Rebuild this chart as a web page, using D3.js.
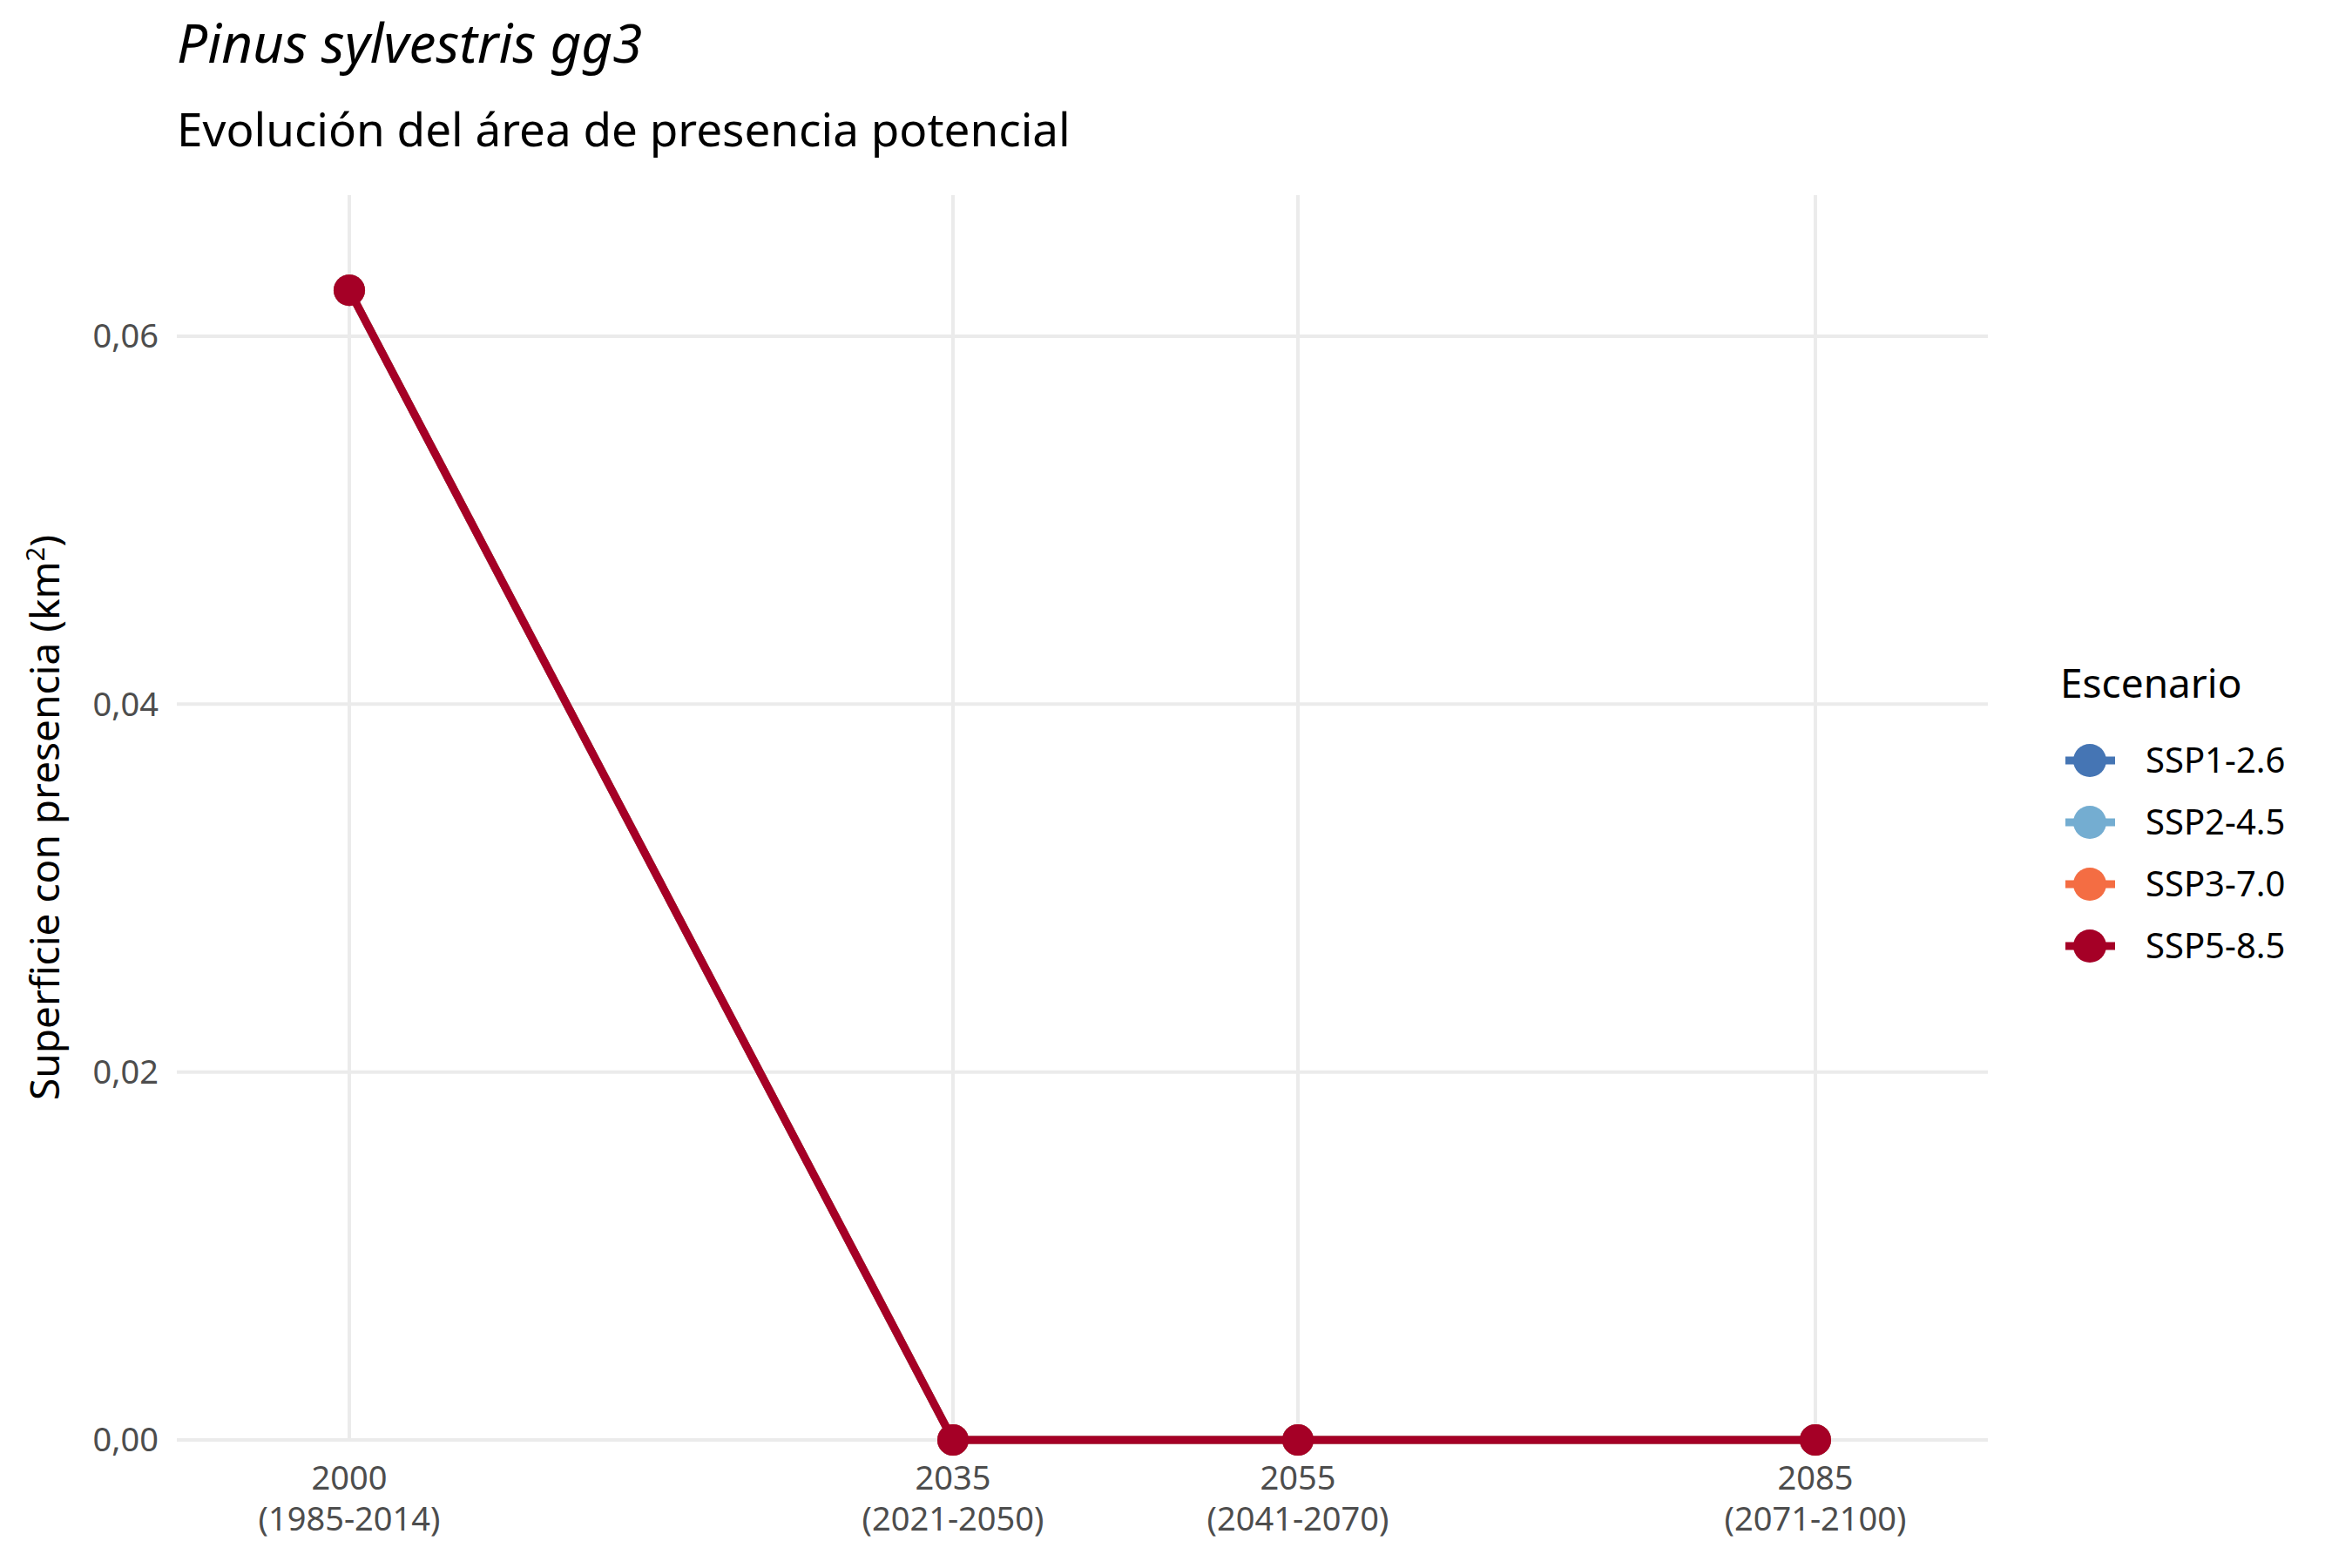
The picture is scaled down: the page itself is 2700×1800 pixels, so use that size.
<!DOCTYPE html>
<html>
<head>
<meta charset="utf-8">
<script src="https://cdn.jsdelivr.net/npm/d3@7"></script>
<style>
  body { margin: 0; background: #fff; }
  text { font-family: "Noto Sans", "Open Sans", sans-serif; }
</style>
</head>
<body>
<script>
// data
const years = [2000, 2035, 2055, 2085];
const periodLabels = ['(1985-2014)', '(2021-2050)', '(2041-2070)', '(2071-2100)'];
const scenarios = ['SSP1-2.6', 'SSP2-4.5', 'SSP3-7.0', 'SSP5-8.5'];
const colors = ['#4575b4', '#74add1', '#f46d43', '#a50026'];
const ssp126 = [0.0625, 0, 0, 0];
const ssp245 = [0.0625, 0, 0, 0];
const ssp370 = [0.0625, 0, 0, 0];
const ssp585 = [0.0625, 0, 0, 0];
const yTicks = [0, 0.02, 0.04, 0.06];

const series = [ssp126, ssp245, ssp370, ssp585];

const W = 2700, H = 1800;
const svg = d3.select('body').append('svg').attr('width', W).attr('height', H);

const panel = { left: 203, right: 2282, top: 224, bottom: 1653 };
const x = d3.scaleLinear().domain([2000, 2085]).range([401, 2084]);
const y = d3.scaleLinear().domain([0, 0.06]).range([1653, 386]);

// grid
svg.append('g').selectAll('line').data(yTicks).join('line')
  .attr('x1', panel.left).attr('x2', panel.right)
  .attr('y1', d => y(d)).attr('y2', d => y(d))
  .attr('stroke', '#ebebeb').attr('stroke-width', 4);
svg.append('g').selectAll('line').data(years).join('line')
  .attr('x1', d => x(d)).attr('x2', d => x(d))
  .attr('y1', panel.top).attr('y2', panel.bottom)
  .attr('stroke', '#ebebeb').attr('stroke-width', 4);

// tick labels
const fmt = d => d3.format('.2f')(d).replace('.', ',');
svg.append('g').selectAll('text').data(yTicks).join('text')
  .attr('x', 182).attr('y', d => y(d)).attr('dy', '0.35em')
  .attr('text-anchor', 'end').attr('font-size', 38).attr('fill', '#4d4d4d')
  .text(fmt);
const xl = svg.append('g').selectAll('text').data(years).join('text')
  .attr('x', d => x(d)).attr('y', 1710)
  .attr('text-anchor', 'middle').attr('font-size', 38).attr('fill', '#4d4d4d');
xl.append('tspan').attr('x', d => x(d)).text(d => d);
xl.append('tspan').attr('x', d => x(d)).attr('dy', 47).text((d, i) => periodLabels[i]);

// lines + points
const line = d3.line().x((d, i) => x(years[i])).y(d => y(d));
series.forEach((s, k) => {
  svg.append('path').datum(s).attr('d', line)
    .attr('fill', 'none').attr('stroke', colors[k]).attr('stroke-width', 9);
  svg.append('g').selectAll('circle').data(s).join('circle')
    .attr('cx', (d, i) => x(years[i])).attr('cy', d => y(d)).attr('r', 18)
    .attr('fill', colors[k]);
});

// titles
svg.append('text').attr('x', 203).attr('y', 72).attr('font-size', 62)
  .attr('font-style', 'italic').text('Pinus sylvestris gg3');
svg.append('text').attr('x', 203).attr('y', 168).attr('font-size', 53)
  .text('Evolución del área de presencia potencial');

// y axis title
const yt = svg.append('text')
  .attr('transform', `translate(68,${(panel.top + panel.bottom) / 2}) rotate(-90)`)
  .attr('text-anchor', 'middle').attr('font-size', 46);
yt.append('tspan').text('Superficie con presencia (km');
yt.append('tspan').attr('font-size', 29).attr('dy', -17).text('2');
yt.append('tspan').attr('dy', 17).text(')');

// legend
const lg = svg.append('g');
lg.append('text').attr('x', 2365).attr('y', 801).attr('font-size', 46).text('Escenario');
scenarios.forEach((s, i) => {
  const cy = 873 + i * 71;
  lg.append('line').attr('x1', 2371).attr('x2', 2428).attr('y1', cy).attr('y2', cy)
    .attr('stroke', colors[i]).attr('stroke-width', 9);
  lg.append('circle').attr('cx', 2399).attr('cy', cy).attr('r', 19).attr('fill', colors[i]);
  lg.append('text').attr('x', 2463).attr('y', cy).attr('dy', '0.35em')
    .attr('font-size', 40).text(s);
});
</script>
</body>
</html>
